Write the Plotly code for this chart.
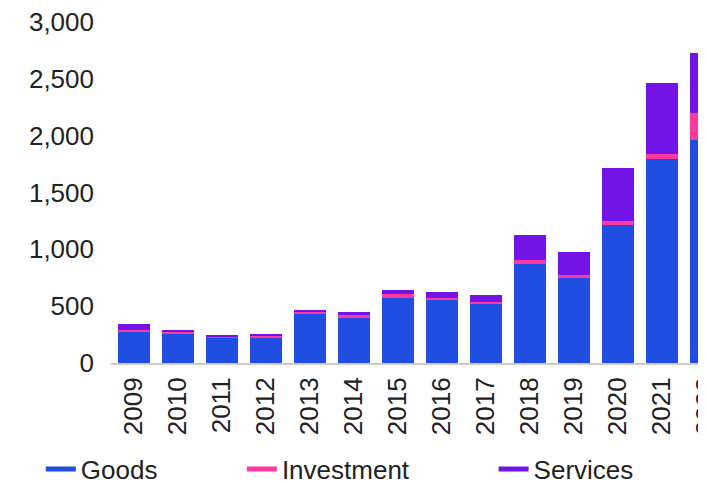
import plotly.graph_objects as go

years = ["2009", "2010", "2011", "2012", "2013", "2014", "2015", "2016",
         "2017", "2018", "2019", "2020", "2021", "2022"]
goods = [278, 252, 217, 225, 436, 392, 576, 550, 515, 874, 752, 1217, 1795, 1962]
investment = [12, 18, 20, 15, 12, 26, 35, 20, 18, 35, 26, 35, 44, 237]
services = [49, 20, 10, 12, 18, 35, 35, 58, 67, 219, 202, 465, 623, 526]
y_ticks = [0, 500, 1000, 1500, 2000, 2500, 3000]

colors = {"Goods": "#1F4DE2", "Investment": "#FF38A0", "Services": "#7214E8"}
series = [("Goods", goods), ("Investment", investment), ("Services", services)]

fig = go.Figure()
for name, vals in series:
    fig.add_trace(go.Bar(x=years, y=vals, name=name, marker_color=colors[name],
                         marker_line_width=0, showlegend=False))

legend_x = [-0.118, 0.220, 0.643]
for i, (name, vals) in enumerate(series):
    lg = "legend" if i == 0 else f"legend{i+1}"
    fig.add_trace(go.Scatter(x=[None], y=[None], mode="lines", name=name,
                             line=dict(color=colors[name], width=5),
                             legend=lg, showlegend=True))

font = "Liberation Sans, Arial, sans-serif"
leg_common = dict(orientation="h", yref="container", yanchor="top", y=0.077,
                  xanchor="left",
                  font=dict(size=26, color="#222222", family=font),
                  bgcolor="rgba(0,0,0,0)", borderwidth=0)

fig.update_layout(
    width=698, height=474,
    margin=dict(l=103, r=0, t=14, b=119, autoexpand=False),
    barmode="stack", bargap=0.273,
    paper_bgcolor="white", plot_bgcolor="white",
    font=dict(family=font, color="#222222"),
    legend=dict(x=legend_x[0], **leg_common),
    legend2=dict(x=legend_x[1], **leg_common),
    legend3=dict(x=legend_x[2], **leg_common),
    xaxis=dict(range=[-0.52, 13.0], tickangle=-90, showgrid=False,
               showline=True, linecolor="#cccccc", linewidth=2,
               ticks="", tickfont=dict(size=26, color="#222222"),
               ticklabelstandoff=2, ticklabeloverflow="allow"),
    yaxis=dict(range=[0, 3000], tickvals=y_ticks, tickformat=",",
               showgrid=False, zeroline=False, showline=False, ticks="",
               tickfont=dict(size=26, color="#222222"),
               ticklabelstandoff=16, ticklabeloverflow="allow"),
)

fig.write_html("out.html")
